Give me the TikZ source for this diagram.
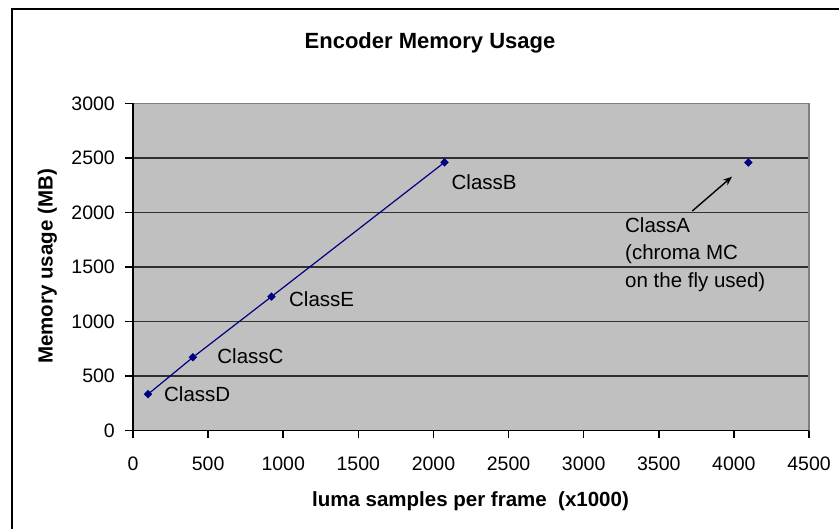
\documentclass[tikz,border=0pt]{standalone}
\usepackage{fontspec}
\setmainfont{Liberation Sans}
\usepackage{tikz}
\usetikzlibrary{positioning}
\usetikzlibrary{shapes.geometric}
\usetikzlibrary{arrows.meta}

\definecolor{plotgray}{HTML}{C0C0C0}
\definecolor{seriesblue}{HTML}{000080}
\definecolor{bordergray}{HTML}{808080}
\definecolor{gridline}{HTML}{303030}

\begin{document}
\begin{tikzpicture}[
                x=1pt, y=1pt,
                dot/.style = {
                    diamond,
                    fill = seriesblue,
                    minimum size = 8.5pt,
                    inner sep = 0pt,
                    outer sep = 0pt
                },
                lbl/.style = {
                    inner sep = 0pt,
                    font = \fontsize{20.5}{27.5}\selectfont
                },
                ticklbl/.style = {
                    inner sep = 0pt,
                    font = \fontsize{19.5}{23}\selectfont
                },
                axlbl/.style = {
                    inner sep = 0pt,
                    font = \bfseries\fontsize{20.5}{24}\selectfont
                },
                grid line/.style = {line width = 1.5pt, gridline},
                axis line/.style = {line width = 1.5pt, black},
                series/.style = {line width = 1.2pt, seriesblue},
                pointer/.style = {line width = 1.4pt, black, -{Stealth[length=9pt, width=7pt]}}
            ]
            \useasboundingbox (0,0) rectangle (839,529);
            \clip (0,0) rectangle (839,529);
            % chart frame
            \draw[line width = 2pt, black] (12,-10) -- (12,520) -- (850,520);
            % title and axis titles
            \node[axlbl, font = \bfseries\fontsize{22}{26}\selectfont, anchor=base] (title) at (430,480) {Encoder Memory Usage};
            \node[axlbl, anchor=base, rotate=90] (ytitle) at (52.7,262.5) {Memory usage (MB)};
            \node[axlbl, anchor=base] (xtitle) at (470.5,22.3) {luma samples per frame\ \ (x1000)};
            %
            \begin{scope}[shift={(133,98.3)}, x=0.150222pt, y=0.109133pt]
                \fill[plotgray] (0,0) rectangle (4500,3000);
                \foreach \v in {500,1000,...,2500}
                    \draw[grid line] (0,\v) -- (4500,\v);
                \draw[line width = 1.3pt, bordergray] (0,3000) -- (4500,3000) -- (4500,0);
                \draw[axis line] (0,3000) -- (0,0) -- (4500,0);
                % ticks
                \foreach \v in {0,500,...,3000} {
                    \draw[axis line] (0,\v) -- ++(-8pt,0);
                    \node[ticklbl, anchor=east, xshift=-18pt] (ytick\v) at (0,\v) {\v};
                }
                \foreach \v in {0,500,...,4500} {
                    \draw[axis line] (\v,0) -- ++(0,-7pt);
                    \node[ticklbl, anchor=north, yshift=-25.8pt] (xtick\v) at (\v,0) {\v};
                }
                % data points
                \node[dot] (D) at (99.84,334) {};
                \node[dot] (C) at (399.36,673) {};
                \node[dot] (E) at (921.6,1228) {};
                \node[dot] (B) at (2073.6,2459) {};
                \node[dot] (A) at (4096,2457) {};
                %
                \draw[series] (D) -- (C);
                \draw[series] (C) -- (E);
                \draw[series] (E) -- (B);
                % point labels
                \node[lbl, right=11.7pt of D] (Dlbl) {ClassD};
                \node[lbl, right=20pt of C, yshift=1.5pt] (Clbl) {ClassC};
                \node[lbl, right=13.3pt of E, yshift=-2.3pt] (Elbl) {ClassE};
                \node[lbl, right=2.7pt of B, yshift=-19.7pt] (Blbl) {ClassB};
                \node[lbl, align=left, anchor=base west] (Albl) at (3275,1313) {ClassA\\(chroma MC\\on the fly used)};
                %
                \coordinate (Atail) at (3723,2013);
                \draw[pointer, shorten >= 18.5pt] (Atail) -- (A);
            \end{scope}
        \end{tikzpicture}
\end{document}
